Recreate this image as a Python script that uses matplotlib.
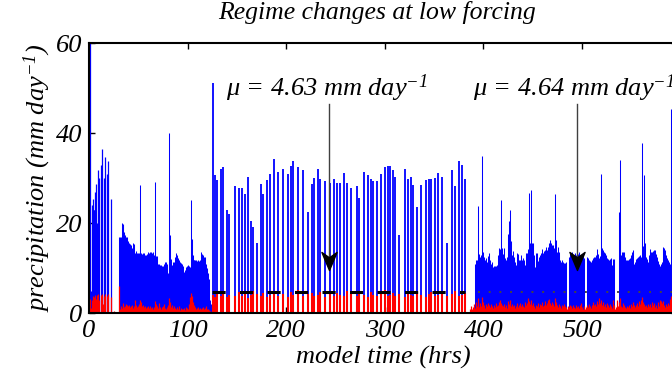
import numpy as np
import matplotlib
matplotlib.use("Agg")
import matplotlib.pyplot as plt
from matplotlib.path import Path

plt.rcParams['font.family'] = 'serif'
plt.rcParams['font.serif'] = ['Liberation Serif', 'DejaVu Serif']
plt.rcParams['font.style'] = 'italic'
plt.rcParams['mathtext.fontset'] = 'custom'
plt.rcParams['mathtext.rm'] = 'Liberation Serif'
plt.rcParams['mathtext.it'] = 'Liberation Serif:italic'

# regime A: hourly, t = 0..29
blue_a = [60, 5, 24, 25.4, 23, 23, 27, 28.6, 20, 31.8, 30, 0, 33, 36.4, 0, 30, 34.6, 0, 31, 33.9, 0, 0, 25.3]
red_a = [3.1, 1.2, 2.9, 3.7, 2.5, 3.5, 4.0, 3.2, 4.0, 4.2, 3.0, 0, 4.0, 4.2, 2.0, 3.9, 4.2, 0, 3.8, 4.3,
         0, 0, 3.5, 0, 0, 0.5, 0, 0, 0, 0]

# regime B: hourly, t = 30..124
blue_b = [16.8, 16.8, 17.0, 20.0, 19.8, 19.6, 18.0, 17.3, 17.0, 16.8,
          16.0, 15.5, 15.3, 15.1, 14.5, 15.5, 15.3, 13.4, 13.8, 13.3,
          13.4, 13.3, 28.4, 13.3, 13.2, 13.4, 13.4, 13.0, 12.9, 13.2,
          13.5, 13.4, 13.5, 13.5, 13.3, 13.5, 12.9, 29.1, 12.7, 12.7,
          11.0, 11.0, 10.7, 10.7, 10.5, 10.5, 11.0, 11.4, 11.4, 10.8,
          9.0, 40.0, 17.3, 12.0, 10.7, 11.4, 11.4, 12.5, 13.4, 12.8,
          12.2, 11.8, 11.4, 11.2, 11.0, 10.5, 9.2, 9.5, 10.2, 10.5,
          10.7, 10.5, 10.2, 25.2, 16.4, 13.0, 11.8, 11.8, 11.8, 11.7,
          11.6, 11.8, 11.6, 11.8, 13.6, 13.2, 12.9, 12.5, 12.5, 11.0,
          10.0, 9.0, 7.5, 3.0, 2.0]
red_b = [6.0, 1.0, 1.5, 1.2, 1.8, 2.2, 1.4, 1.6, 2.0, 1.7,
         1.5, 1.9, 1.4, 1.6, 1.8, 1.2, 1.5, 2.9, 1.7, 1.3,
         1.6, 2.1, 3.0, 2.4, 1.5, 1.8, 1.3, 1.6, 1.2, 1.4,
         1.6, 1.2, 1.5, 1.1, 1.3, 1.0, 1.4, 2.6, 2.0, 1.5,
         1.2, 2.2, 1.4, 1.0, 1.3, 1.6, 2.0, 1.2, 1.0, 1.4,
         1.8, 3.3, 2.5, 1.4, 1.8, 1.2, 1.5, 1.1, 0.8, 1.3,
         1.0, 1.6, 0.7, 1.2, 1.0, 0.8, 1.1, 0.6, 1.4, 1.2,
         0.9, 2.0, 3.6, 4.4, 3.7, 2.4, 1.8, 1.2, 1.4, 1.0,
         1.1, 1.3, 0.9, 1.2, 1.0, 1.1, 1.4, 1.0, 1.2, 1.5,
         0.8, 1.0, 0.7, 0.5, 0.3]

# regime C: isolated storms
spike_t = [125.4, 127.8, 130.1, 133.5, 136.2, 139.6, 142.3, 147.8, 152.1, 155.5,
           158.2, 161.6, 164.0, 166.7, 170.1, 174.1, 176.8, 180.2, 183.6, 187.3,
           191.7, 196.8, 201.5, 204.5, 206.9, 211.6, 216.7, 221.8, 225.8, 228.5,
           231.9, 234.6, 239.0, 244.4, 248.8, 251.5, 254.6, 258.6, 261.7, 265.7,
           271.5, 274.2, 279.3, 282.6, 285.7, 288.4, 292.4, 296.2, 300.6, 303.3,
           305.6, 308.0, 310.7, 314.8, 320.2, 323.2, 326.3, 328.6, 332.3, 336.4,
           342.1, 344.5, 347.2, 351.3, 354.3, 358.4, 362.8, 367.8, 371.2, 374.9,
           378.3, 381.3]
spike_blue = [51.2, 30.6, 29.5, 32.0, 32.4, 23.0, 22.0, 28.3, 27.8, 27.7,
              26.5, 30.2, 20.4, 19.2, 15.6, 28.6, 26.4, 29.6, 31.0, 34.2,
              31.4, 32.1, 30.9, 32.7, 33.8, 32.4, 31.7, 22.4, 28.6, 30.1,
              32.0, 29.7, 29.3, 29.0, 29.7, 28.8, 28.8, 31.2, 28.8, 27.7,
              28.2, 25.6, 31.3, 30.7, 29.7, 29.4, 29.3, 31.0, 32.4, 32.6,
              32.6, 31.9, 30.2, 17.4, 32.1, 29.9, 30.2, 28.4, 23.5, 28.5,
              29.5, 29.7, 29.7, 30.1, 31.1, 30.2, 15.6, 31.7, 28.2, 33.8,
              32.9, 29.9]
spike_red = [4.0, 3.6, 4.2, 3.8, 4.4, 3.5, 4.1, 3.9, 4.6, 3.7,
             4.3, 3.4, 4.0, 5.0, 4.2, 3.8, 4.5, 3.6, 4.1, 4.8,
             3.9, 4.3, 3.5, 4.6, 4.0, 5.1, 3.7, 4.2, 4.4, 3.8,
             4.0, 4.7, 3.6, 4.3, 3.9, 4.5, 4.1, 3.7, 4.9, 4.2,
             3.8, 4.4, 4.0, 3.6, 4.6, 4.1, 3.9, 4.3, 5.2, 3.7,
             4.0, 4.5, 3.8, 4.2, 3.6, 4.4, 4.0, 3.9, 4.7, 4.1,
             3.5, 4.3, 4.6, 3.8, 4.0, 4.4, 3.7, 4.2, 4.9, 3.9,
             4.1, 4.5]

# regime D: hourly, blue from t = 391, red from t = 386
blue_d = [10.8, 11.8, 11.8, 12.5, 23.8, 13.1, 12.5, 13.0, 34.8, 13.5,
          12.5, 11.8, 12.2, 11.4, 12.6, 13.3, 11.8, 10.9, 11.4, 10.3,
          10.5, 10.5, 10.4, 10.7, 12.8, 14.4, 14.2, 25.2, 14.4, 13.2,
          14.4, 12.2, 11.8, 12.4, 17.6, 20.5, 22.9, 16.0, 12.9, 13.9,
          12.4, 11.4, 10.7, 13.3, 13.1, 11.9, 11.8, 12.9, 11.9, 12.2,
          11.8, 10.7, 13.3, 13.3, 14.2, 26.7, 15.5, 27.3, 15.5, 15.5,
          12.8, 10.3, 13.4, 13.3, 11.6, 12.4, 12.8, 13.4, 14.2, 13.3,
          13.8, 14.0, 14.7, 14.0, 14.7, 15.1, 15.6, 16.2, 15.6, 15.1,
          15.1, 14.5, 26.5, 16.2, 13.6, 14.7, 13.6, 11.8, 11.4, 11.8,
          11.4, 11.2, 11.2, 11.4, 0, 0, 12.5, 13.2, 12.8, 13.6,
          13.0, 12.6, 13.4, 13.0, 12.5, 13.2, 13.6, 12.8, 13.0, 12.4,
          12.8, 12.2, 0, 0, 12.5, 12.2, 11.8, 11.6, 11.4, 11.8,
          12.2, 12.4, 12.5, 13.0, 14.2, 13.1, 12.2, 12.6, 30.8, 14.5,
          14.0, 13.6, 13.4, 12.8, 12.2, 12.0, 11.8, 12.0, 12.2, 10.7,
          12.0, 12.0, 0, 0, 0, 0, 22.5, 16.0, 34.0, 13.0,
          13.6, 13.6, 13.6, 12.5, 11.8, 11.8, 11.8, 12.0, 12.2, 12.9,
          13.5, 14.0, 11.0, 11.4, 12.0, 12.3, 12.5, 12.7, 12.9, 12.5,
          37.8, 15.0, 30.6, 15.6, 12.5, 12.0, 11.4, 12.8, 14.2, 13.6,
          13.6, 13.8, 14.0, 14.0, 13.2, 12.5, 11.5, 10.8, 10.5, 11.0,
          11.4, 14.7, 14.4, 14.0, 13.0, 12.2, 11.8, 11.4, 11.0, 45.4,
          30.0, 13.0, 12.0, 12.0, 12.0, 12.0]
red_d = [1.0, 1.5, 0.8, 1.4, 2.0, 1.2, 2.4, 1.6, 3.3, 2.0,
         1.4, 2.2, 1.6, 3.5, 2.4, 1.8, 1.2, 2.0, 1.5, 2.2,
         1.7, 1.3, 2.0, 1.5, 1.1, 1.8, 1.4, 2.2, 1.6, 1.9,
         2.5, 3.0, 2.2, 1.8, 1.5, 2.0, 1.4, 1.7, 1.2, 2.6,
         2.0, 2.8, 1.6, 2.1, 1.5, 1.8, 1.2, 1.6, 2.2, 1.4,
         1.8, 2.3, 1.5, 2.0, 1.6, 1.3, 2.5, 1.8, 2.2, 3.3,
         2.6, 2.0, 3.0, 1.8, 2.2, 1.5, 1.2, 1.9, 1.6, 2.2,
         1.4, 2.0, 1.7, 2.4, 1.5, 1.9, 2.6, 1.8, 2.3, 2.8,
         2.0, 3.1, 2.2, 1.7, 2.5, 2.0, 1.6, 3.4, 2.4, 1.8,
         1.4, 2.0, 1.6, 1.2, 1.8, 1.5, 2.1, 1.6, 1.3, 0.8,
         1.6, 1.3, 1.9, 1.5, 1.2, 1.8, 1.4, 1.1, 1.7, 1.3,
         1.6, 1.2, 1.9, 2.2, 1.4, 1.0, 1.5, 0.8, 1.3, 1.8,
         1.4, 2.0, 1.6, 1.2, 1.9, 2.4, 1.7, 2.1, 1.5, 2.6,
         2.0, 3.4, 2.2, 2.8, 1.8, 2.5, 1.6, 2.0, 1.4, 2.2,
         1.7, 1.3, 2.0, 1.6, 1.2, 2.8, 1.8, 1.0, 1.4, 2.9,
         1.5, 2.4, 3.4, 2.0, 1.6, 1.3, 2.2, 1.8, 1.4, 1.1,
         1.6, 1.3, 1.8, 1.2, 2.0, 1.5, 2.4, 1.7, 1.3, 1.9,
         2.2, 1.6, 2.6, 2.0, 2.9, 3.6, 2.4, 2.0, 1.5, 1.8,
         1.4, 2.1, 1.6, 2.0, 1.3, 2.5, 1.8, 2.2, 1.4, 1.7,
         1.2, 2.4, 1.6, 3.0, 2.6, 2.2, 2.7, 1.8, 1.4, 2.0,
         1.6, 2.2, 1.8, 3.2, 3.9, 2.5, 1.9, 2.6, 1.8, 2.2, 1.6]

# regime means
mu_vals = [4.63, 4.64]
mu_start = [125, 395]
mu_end = [381, 596]
arrow_t = [243.4, 494.6]
label_t = [139, 389.5]

t_a = np.arange(len(blue_a))
t_a_red = np.arange(len(red_a))
t_b = np.arange(30, 30 + len(blue_b))
t_d = np.arange(391, 391 + len(blue_d))
t_d_red = np.arange(386, 386 + len(red_d))

fig = plt.figure(figsize=(6.72, 3.79), dpi=100)
ax = fig.add_axes([0.1324, 0.174, 0.8746, 0.7124])

blue = '#0000ff'
red = '#ff0000'
ax.vlines(t_a + 0.6, 0, blue_a, color=blue, lw=0.9)
ax.vlines(t_b, 0, blue_b, color=blue, lw=0.75)
ax.vlines(spike_t, 0, spike_blue, color=blue, lw=1.3)
ax.vlines(t_d, 0, blue_d, color=blue, lw=0.75)

ax.vlines(t_a_red + 0.6, 0, red_a, color=red, lw=0.9)
ax.vlines(t_b, 0, red_b, color=red, lw=0.9)
ax.vlines(spike_t, 0, spike_red, color=red, lw=1.5)
ax.vlines(t_d_red, 0, red_d, color=red, lw=0.9)

# mean lines
ax.hlines(mu_vals[0], mu_start[0], mu_end[0], color='black', lw=2.2, linestyles=(0, (4.3, 4.7)))
ax.hlines(mu_vals[1], mu_start[1], mu_end[1], color='#444444', lw=1.4, linestyles=(0, (1, 4.5)))

# arrows with matlab style heads
head = Path([(0, 0), (-0.42, 1), (0, 0.7), (0.42, 1), (0, 0)],
            [Path.MOVETO, Path.LINETO, Path.LINETO, Path.LINETO, Path.CLOSEPOLY])
for i in range(2):
    ax.plot([arrow_t[i], arrow_t[i]], [46.5, 11], color='#404040', lw=1.0, zorder=5)
    ax.plot(arrow_t[i], 9.5, marker=head, ms=26, color='black', mec='black', zorder=6)
    ax.text(label_t[i], 48.3, r'$\mathrm{\mu}$ = %.2f mm day$^{\mathit{-1}}$' % mu_vals[i],
            fontsize=19, va='baseline', ha='left', zorder=7, clip_on=False)

ax.set_xlim(0, 596)
ax.set_ylim(0, 60)
ax.set_xticks([0, 100, 200, 300, 400, 500])
ax.set_yticks([0, 20, 40, 60])
ax.tick_params(direction='in', length=4, width=1, top=True, right=True, labelsize=19, pad=5)
for s in ax.spines.values():
    s.set_linewidth(1.5)

ax.set_xlabel('model time (hrs)', fontsize=19)
ax.xaxis.set_label_coords(0.5, -0.12)
ax.set_ylabel(r'precipitation (mm day$^{\mathit{-1}}$)', fontsize=19, labelpad=2)
fig.text(377 / 672, 1 - 13 / 379, 'Regime changes at low forcing', fontsize=18.5,
         ha='center', va='center')

fig.savefig('out.png', dpi=100)
